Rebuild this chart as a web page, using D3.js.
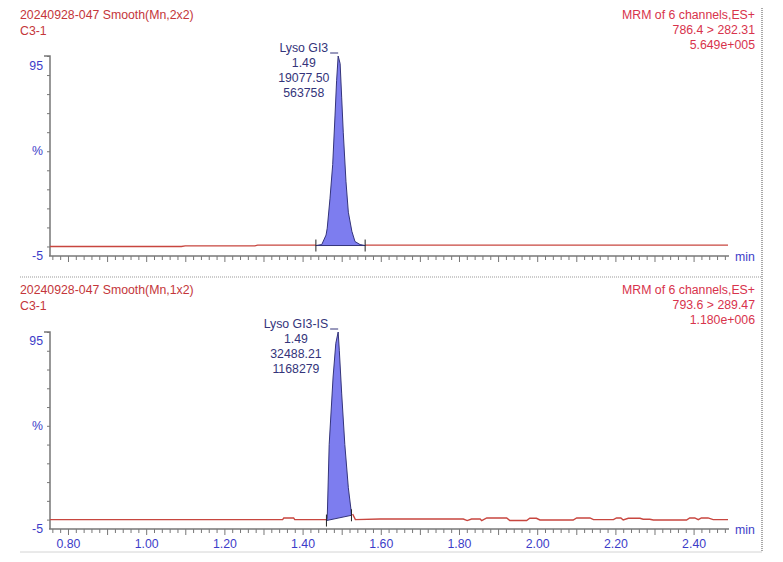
<!DOCTYPE html>
<html>
<head>
<meta charset="utf-8">
<script src="https://cdn.jsdelivr.net/npm/d3@7"></script>
<style>
  body { margin: 0; background: #fff; }
  svg { display: block; font-family: "Liberation Sans", Arial, sans-serif; }
</style>
</head>
<body>
<div id="chart"></div>
<script>
// retention time axis (min)
const xDomain = [0.754, 2.488];
const yDomain = [-5, 100];
const xTickLabels = ['0.80', '1.00', '1.20', '1.40', '1.60', '1.80', '2.00', '2.20', '2.40'];
const yLabels = [[95, '95'], [50, '%'], [-5, '-5']];

// panel 1: Lyso GI3
const headerTop = ['20240928-047 Smooth(Mn,2x2)', 'C3-1'];
const infoTop = ['MRM of 6 channels,ES+', '786.4 > 282.31', '5.649e+005'];
const annoTop = ['Lyso GI3', '1.49', '19077.50', '563758'];
const traceTop = [
  [0.754, 0], [1.09, 0], [1.10, 0.3], [1.278, 0.3], [1.285, 0.7], [1.434, 0.7],
  [1.449, 1], [1.460, 6], [1.463, 9.6], [1.470, 25], [1.477, 43], [1.483, 69],
  [1.487, 87], [1.491, 100], [1.496, 96], [1.500, 78], [1.504, 60], [1.511, 34],
  [1.517, 18], [1.526, 8], [1.534, 2.6], [1.547, 1], [1.560, 0.7], [2.488, 0.7]
];
const peakTop = { apex: 1.491, start: 1.434, end: 1.560, startY: 0.5, endY: 0.5 };

// panel 2: Lyso GI3-IS
const headerBottom = ['20240928-047 Smooth(Mn,1x2)', 'C3-1'];
const infoBottom = ['MRM of 6 channels,ES+', '793.6 > 289.47', '1.180e+006'];
const annoBottom = ['Lyso GI3-IS', '1.49', '32488.21', '1168279'];
const traceBottom = [
  [0.754, 0], [1.349, 0], [1.352, 0.9], [1.377, 0.9], [1.380, 0], [1.461, 0],
  [1.463, 0.5], [1.468, 40], [1.478, 76], [1.485, 94], [1.491, 100], [1.494, 90],
  [1.500, 67], [1.508, 40], [1.517, 17], [1.524, 5], [1.528, 3], [1.535, 0],
  [1.598, 0.3], [1.811, 0.3], [1.821, -0.5], [1.832, 0.3], [1.854, 0.3], [1.858, -0.5],
  [1.871, 0.9], [1.922, 0.9], [1.930, -0.5], [1.973, -0.5], [1.981, 0.7], [1.998, 0.7],
  [2.007, -0.2], [2.092, -0.2], [2.101, 0.9], [2.135, 0.9], [2.144, 0], [2.195, 0],
  [2.203, 0.9], [2.214, 0.9], [2.220, -0.2], [2.233, 0.7], [2.263, 0.7], [2.271, 0.2],
  [2.288, 0.2], [2.297, -0.2], [2.382, -0.2], [2.390, 0.9], [2.403, 0.9], [2.412, 0],
  [2.420, 0.9], [2.437, 0.9], [2.450, 0], [2.488, 0]
];
const peakBottom = { apex: 1.491, start: 1.461, end: 1.525, startY: -0.5, endY: 2.3 };

const W = 783, H = 562;
const fs = 12.3;
const svg = d3.select('#chart').append('svg').attr('width', W).attr('height', H);

const x = d3.scaleLinear().domain(xDomain).range([50, 728]);

const panels = [
  { top: 56, bottom: 256, header: headerTop, info: infoTop, anno: annoTop, trace: traceTop, peak: peakTop, hy: 19, labels: false },
  { top: 332, bottom: 529, header: headerBottom, info: infoBottom, anno: annoBottom, trace: traceBottom, peak: peakBottom, hy: 294, labels: true }
];

const red = '#c8463f', blue = '#3c3cc8', head = '#c4363a', info = '#d8334c', navy = '#34347a';

// frame
svg.append('line').attr('x1', 762).attr('x2', 762).attr('y1', 8).attr('y2', 552)
  .attr('stroke', '#a8a8a8').attr('stroke-width', 2).attr('stroke-dasharray', '1,1');
svg.append('line').attr('x1', 20).attr('x2', 762).attr('y1', 277).attr('y2', 277)
  .attr('stroke', '#999').attr('stroke-dasharray', '1,1');
svg.append('line').attr('x1', 20).attr('x2', 762).attr('y1', 552).attr('y2', 552)
  .attr('stroke', '#d4d4d4');

panels.forEach(p => {
  const y = d3.scaleLinear().domain(yDomain).range([p.bottom, p.top]);
  const g = svg.append('g');

  // headers
  g.selectAll('text.hd').data(p.header).enter().append('text')
    .attr('x', 20).attr('y', (d, i) => p.hy + i * 15.5)
    .attr('font-size', fs).attr('fill', head).text(d => d);
  g.selectAll('text.inf').data(p.info).enter().append('text')
    .attr('x', 755).attr('y', (d, i) => p.hy + i * 15)
    .attr('text-anchor', 'end').attr('font-size', fs).attr('fill', info).text(d => d);

  // y axis
  const yAxis = d3.axisLeft(y).tickValues(d3.range(0, 101, 10)).tickSize(3).tickFormat('');
  g.append('g').attr('transform', 'translate(50,0)').call(yAxis)
    .call(a => a.select('.domain').remove())
    .call(a => a.selectAll('line').attr('stroke', '#777'));
  g.append('path')
    .attr('d', `M44,${p.top}H50V${p.bottom}`)
    .attr('fill', 'none').attr('stroke', '#777').attr('stroke-width', 1.5);
  g.selectAll('text.yl').data(yLabels).enter().append('text')
    .attr('x', 43).attr('y', d => y(d[0]) + 4)
    .attr('text-anchor', 'end').attr('font-size', fs).attr('fill', blue).text(d => d[1]);

  // x axis: minor ticks every 0.02, major every 0.1
  const minor = d3.range(76, 249, 2).map(v => v / 100).filter(v => v % 0.1 > 0.001 && v % 0.1 < 0.099);
  const major = d3.range(8, 25).map(v => v / 10);
  g.append('g').attr('transform', `translate(0,${p.bottom})`)
    .call(d3.axisBottom(x).tickValues(minor).tickSize(4).tickFormat(''))
    .call(a => a.select('.domain').remove())
    .call(a => a.selectAll('line').attr('stroke', '#777'));
  const xa = g.append('g').attr('transform', `translate(0,${p.bottom})`)
    .call(d3.axisBottom(x).tickValues(major).tickSize(6)
      .tickFormat(d => p.labels ? (xTickLabels.find(t => +t === +d.toFixed(2)) || '') : ''));
  xa.select('.domain').remove();
  xa.selectAll('line').attr('stroke', '#777');
  xa.selectAll('text').attr('font-size', fs).attr('fill', blue)
    .attr('font-family', 'Liberation Sans, Arial, sans-serif').attr('dy', '0.8em');
  g.append('line').attr('x1', 49).attr('x2', 729).attr('y1', p.bottom).attr('y2', p.bottom)
    .attr('stroke', '#777').attr('stroke-width', 1.5);
  g.append('text').attr('x', 735).attr('y', p.bottom + 5).attr('font-size', fs).attr('fill', blue).text('min');

  // trace outside the integrated peak
  const line = d3.line().x(d => x(d[0])).y(d => y(d[1]));
  const pk = p.peak;
  const left = p.trace.filter(d => d[0] <= pk.start);
  const right = p.trace.filter(d => d[0] >= pk.end);
  [left, right].forEach(seg => g.append('path').attr('d', line(seg))
    .attr('fill', 'none').attr('stroke', red).attr('stroke-width', 1.4));

  // integrated peak
  const inside = p.trace.filter(d => d[0] > pk.start && d[0] < pk.end);
  const poly = [[pk.start, pk.startY], ...inside, [pk.end, pk.endY]];
  g.append('path').attr('d', line(poly) + 'Z')
    .attr('fill', '#7d7def').attr('stroke', navy).attr('stroke-width', 1);
  [[pk.start, pk.startY], [pk.end, pk.endY]].forEach(d => {
    g.append('line').attr('x1', x(d[0])).attr('x2', x(d[0]))
      .attr('y1', y(d[1]) - 6).attr('y2', y(d[1]) + 6)
      .attr('stroke', '#222').attr('stroke-width', 1);
  });

  // peak annotation
  const ax = x(pk.apex), ay = y(100);
  const name = g.append('text').attr('x', ax - 10).attr('y', ay - 4)
    .attr('text-anchor', 'end').attr('font-size', fs).attr('fill', navy).text(p.anno[0]);
  const cx = ax - 10 - name.node().getComputedTextLength() / 2;
  g.selectAll('text.an').data(p.anno.slice(1)).enter().append('text')
    .attr('x', cx).attr('y', (d, i) => ay - 4 + (i + 1) * 15)
    .attr('text-anchor', 'middle').attr('font-size', fs).attr('fill', navy).text(d => d);
  g.append('line').attr('x1', ax - 8).attr('x2', ax).attr('y1', ay - 3).attr('y2', ay - 3)
    .attr('stroke', navy).attr('stroke-width', 1);
});
</script>
</body>
</html>
